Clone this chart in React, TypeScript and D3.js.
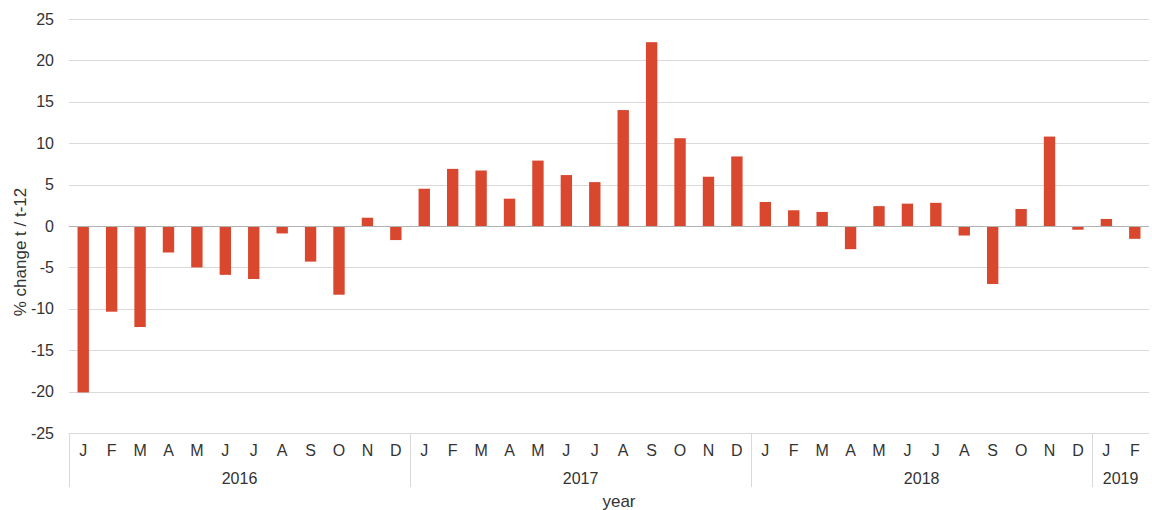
import * as React from "react";
import * as d3 from "d3";

const monthLetters = ["J", "F", "M", "A", "M", "J", "J", "A", "S", "O", "N", "D"];
const years = ["2016", "2017", "2018", "2019"];
const monthsPerYear = [12, 12, 12, 2];

const values2016 = [-20.1, -10.35, -12.2, -3.2, -5.0, -5.9, -6.4, -0.9, -4.3, -8.3, 1.0, -1.7];
const values2017 = [4.5, 6.9, 6.7, 3.3, 7.9, 6.15, 5.3, 14.0, 22.2, 10.6, 5.95, 8.4];
const values2018 = [2.9, 1.9, 1.7, -2.8, 2.4, 2.7, 2.8, -1.15, -7.0, 2.05, 10.8, -0.45];
const values2019 = [0.85, -1.55];

const yTicks = [25, 20, 15, 10, 5, 0, -5, -10, -15, -20, -25];

const W = 1152;
const H = 510;
const margin = { left: 69, right: 3, top: 19, bottom: 77 };
const font = "'Liberation Sans', Arial, sans-serif";

function drawChart(svgRef: React.RefObject<SVGSVGElement | null>) {
  const allValues = [values2016, values2017, values2018, values2019];
  const data: { key: string; month: string; year: string; value: number }[] = [];
  allValues.forEach((vals, yi) => {
    vals.forEach((v, mi) => {
      data.push({ key: `${years[yi]}-${mi}`, month: monthLetters[mi], year: years[yi], value: v });
    });
  });

  const plotBottom = H - margin.bottom;
  const x = d3
    .scaleBand()
    .domain(data.map((d) => d.key))
    .range([margin.left, W - margin.right])
    .paddingInner(0.6)
    .paddingOuter(0.3);
  const step = x.step();
  const y = d3.scaleLinear().domain([-25, 25]).range([plotBottom, margin.top]);

  const svg = d3.select(svgRef.current).attr("width", W).attr("height", H);
  svg.selectAll("*").remove();

  // grid
  svg
    .append("g")
    .selectAll("line")
    .data(yTicks.filter((t) => t !== 0))
    .enter()
    .append("line")
    .attr("x1", margin.left)
    .attr("x2", W - margin.right)
    .attr("y1", (d) => Math.round(y(d)) + 0.5)
    .attr("y2", (d) => Math.round(y(d)) + 0.5)
    .attr("stroke", "#d9d9d9")
    .attr("stroke-width", 1);

  // y tick labels
  svg
    .append("g")
    .selectAll("text")
    .data(yTicks)
    .enter()
    .append("text")
    .attr("x", 54)
    .attr("y", (d) => y(d))
    .attr("dy", "0.35em")
    .attr("text-anchor", "end")
    .attr("font-family", font)
    .attr("font-size", 16)
    .attr("fill", "#333")
    .text((d) => d);

  // bars
  svg
    .append("g")
    .selectAll("rect")
    .data(data)
    .enter()
    .append("rect")
    .attr("x", (d) => x(d.key) as number)
    .attr("width", x.bandwidth())
    .attr("y", (d) => y(Math.max(0, d.value)))
    .attr("height", (d) => Math.abs(y(d.value) - y(0)))
    .attr("fill", "#d8472e");

  // zero line
  svg
    .append("line")
    .attr("x1", margin.left)
    .attr("x2", W - margin.right)
    .attr("y1", Math.round(y(0)) + 0.5)
    .attr("y2", Math.round(y(0)) + 0.5)
    .attr("stroke", "#b3b3b3");

  // month labels
  svg
    .append("g")
    .selectAll("text")
    .data(data)
    .enter()
    .append("text")
    .attr("x", (d) => (x(d.key) as number) + x.bandwidth() / 2)
    .attr("y", plotBottom + 17)
    .attr("dy", "0.35em")
    .attr("text-anchor", "middle")
    .attr("font-family", font)
    .attr("font-size", 16)
    .attr("fill", "#333")
    .text((d) => d.month);

  // year groups
  const starts = d3.cumsum([0, ...monthsPerYear]);
  const sepX = (i: number) => Math.round(margin.left + step * starts[i]) + 0.5;
  svg
    .append("g")
    .selectAll("line")
    .data(d3.range(years.length))
    .enter()
    .append("line")
    .attr("x1", (i) => sepX(i))
    .attr("x2", (i) => sepX(i))
    .attr("y1", plotBottom)
    .attr("y2", plotBottom + 54)
    .attr("stroke", "#d9d9d9");

  svg
    .append("g")
    .selectAll("text")
    .data(years)
    .enter()
    .append("text")
    .attr("x", (d, i) => margin.left + step * (starts[i] + monthsPerYear[i] / 2))
    .attr("y", plotBottom + 45)
    .attr("dy", "0.35em")
    .attr("text-anchor", "middle")
    .attr("font-family", font)
    .attr("font-size", 16)
    .attr("fill", "#333")
    .text((d) => d);

  // axis titles
  svg
    .append("text")
    .attr("x", 619)
    .attr("y", 507)
    .attr("text-anchor", "middle")
    .attr("font-family", font)
    .attr("font-size", 17)
    .attr("fill", "#333")
    .text("year");

  svg
    .append("text")
    .attr("transform", `translate(20, 252) rotate(-90)`)
    .attr("dy", "0.35em")
    .attr("text-anchor", "middle")
    .attr("font-family", font)
    .attr("font-size", 17)
    .attr("fill", "#333")
    .text("% change t / t-12");
}

export default function App() {
  const svgRef = React.useRef<SVGSVGElement>(null);

  React.useEffect(() => {
    drawChart(svgRef);
  }, []);

  return (
    <div style={{ position: "absolute", left: 0, top: 0 }}>
      <svg ref={svgRef} style={{ display: "block" }} />
    </div>
  );
}
